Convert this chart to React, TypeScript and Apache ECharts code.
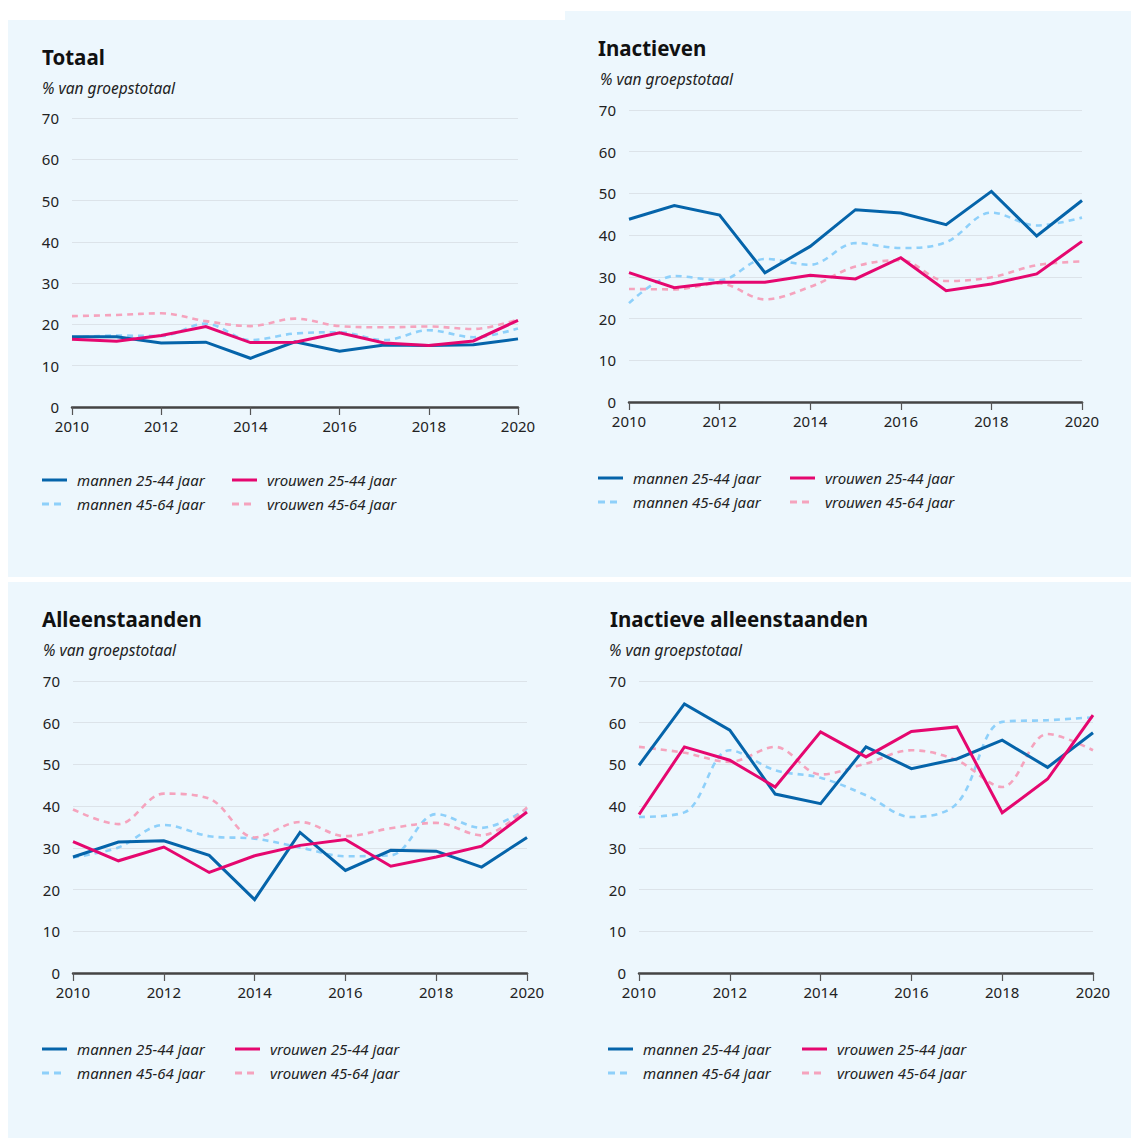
import React, { useEffect, useRef } from "react";
import * as echarts from "echarts";

const YEARS = ["2010", "2011", "2012", "2013", "2014", "2015", "2016", "2017", "2018", "2019", "2020"];
const SERIES_NAMES = ["mannen 25-44 jaar", "mannen 45-64 jaar", "vrouwen 25-44 jaar", "vrouwen 45-64 jaar"];
const SUBTITLE = "% van groepstotaal";
const Y_MIN = 0;
const Y_MAX = 70;
const Y_STEP = 10;

// Totaal
const totaalM2544 = [17.0, 17.0, 15.5, 15.7, 11.8, 15.8, 13.5, 15.0, 14.9, 15.1, 16.5];
const totaalM4564 = [16.8, 17.3, 17.2, 20.2, 16.2, 17.8, 18.1, 16.2, 18.6, 16.9, 19.0];
const totaalV2544 = [16.4, 15.9, 17.3, 19.5, 15.6, 15.7, 18.0, 15.5, 14.9, 16.0, 21.0];
const totaalV4564 = [22.0, 22.3, 22.7, 20.8, 19.6, 21.4, 19.6, 19.3, 19.5, 18.9, 21.2];

// Inactieven
const inactM2544 = [43.8, 47.1, 44.8, 31.0, 37.3, 46.1, 45.3, 42.5, 50.5, 39.8, 48.3];
const inactM4564 = [23.7, 30.2, 29.2, 34.3, 32.9, 38.1, 36.9, 38.3, 45.4, 42.3, 44.2];
const inactV2544 = [31.0, 27.4, 28.7, 28.7, 30.4, 29.5, 34.6, 26.7, 28.3, 30.7, 38.5];
const inactV4564 = [27.1, 27.0, 28.4, 24.6, 27.6, 32.5, 34.0, 29.0, 29.9, 32.8, 33.7];

// Alleenstaanden
const alleenM2544 = [27.8, 31.4, 31.7, 28.2, 17.6, 33.7, 24.6, 29.4, 29.2, 25.4, 32.5];
const alleenM4564 = [27.7, 30.1, 35.5, 32.8, 32.2, 30.1, 28.0, 28.2, 38.1, 34.8, 39.4];
const alleenV2544 = [31.5, 26.9, 30.2, 24.1, 28.1, 30.6, 32.0, 25.6, 27.8, 30.4, 38.6];
const alleenV4564 = [39.2, 35.7, 43.0, 41.8, 32.5, 36.2, 32.8, 34.7, 36.0, 33.0, 39.7];

// Inactieve alleenstaanden
const inAlM2544 = [49.8, 64.5, 58.2, 42.9, 40.6, 54.2, 49.0, 51.3, 55.8, 49.3, 57.6];
const inAlM4564 = [37.4, 38.5, 53.4, 48.6, 46.8, 42.6, 37.4, 40.6, 60.2, 60.6, 61.3];
const inAlV2544 = [38.0, 54.2, 51.0, 44.6, 57.8, 51.8, 57.9, 59.0, 38.4, 46.5, 61.8];
const inAlV4564 = [54.2, 52.8, 50.6, 54.2, 47.6, 50.2, 53.4, 51.0, 44.6, 57.3, 53.4];

const COLORS = {
  m2544: "#0564AA",
  m4564: "#8ED0FA",
  v2544: "#E5076F",
  v4564: "#F5A3BD",
};
const FONT = "'Noto Sans', sans-serif";
const SOLID_ICON = "path://M0,0h25v3h-25z";
const DASHED_ICON = "path://M0,0h7v3h-7z M12,0h7v3h-7z M25,0v3z";

const PANELS = [
  {
    title: "Totaal",
    data: [totaalM2544, totaalM4564, totaalV2544, totaalV4564],
    grid: { left: 72, top: 118, width: 446, height: 289 },
    titleX: 42, titleY: 46, subX: 42, subY: 80,
    legX1: 42, legX2: 232, legY: 472,
  },
  {
    title: "Inactieven",
    data: [inactM2544, inactM4564, inactV2544, inactV4564],
    grid: { left: 629, top: 110, width: 453, height: 292 },
    titleX: 598, titleY: 37, subX: 600, subY: 71,
    legX1: 598, legX2: 790, legY: 470,
  },
  {
    title: "Alleenstaanden",
    data: [alleenM2544, alleenM4564, alleenV2544, alleenV4564],
    grid: { left: 73, top: 681, width: 454, height: 292 },
    titleX: 42, titleY: 608, subX: 43, subY: 642,
    legX1: 42, legX2: 235, legY: 1041,
  },
  {
    title: "Inactieve alleenstaanden",
    data: [inAlM2544, inAlM4564, inAlV2544, inAlV4564],
    grid: { left: 639, top: 681, width: 454, height: 292 },
    titleX: 610, titleY: 608, subX: 609, subY: 642,
    legX1: 608, legX2: 802, legY: 1041,
  },
];

function buildOption() {
  const titles: any[] = [];
  const grids: any[] = [];
  const xAxes: any[] = [];
  const yAxes: any[] = [];
  const legends: any[] = [];
  const series: any[] = [];

  PANELS.forEach((p, i) => {
    titles.push({
      text: p.title, left: p.titleX, top: p.titleY, padding: 0,
      textStyle: { fontFamily: FONT, fontSize: 20.5, fontWeight: "bold", color: "#111" },
    });
    titles.push({
      text: SUBTITLE, left: p.subX, top: p.subY, padding: 0,
      textStyle: { fontFamily: FONT, fontSize: 15.5, fontStyle: "italic", fontWeight: "normal", color: "#222" },
    });
    grids.push({ ...p.grid, containLabel: false });
    xAxes.push({
      type: "category", gridIndex: i, data: YEARS, boundaryGap: false,
      axisLine: { show: true, lineStyle: { color: "#444", width: 2.5 } },
      axisTick: { show: true, interval: 1, length: 8, lineStyle: { color: "#555", width: 1.2 } },
      axisLabel: { interval: 1, color: "#222", fontFamily: FONT, fontSize: 15, margin: 11 },
      splitLine: { show: false },
    });
    yAxes.push({
      type: "value", gridIndex: i, min: Y_MIN, max: Y_MAX, interval: Y_STEP,
      axisLine: { show: false }, axisTick: { show: false },
      axisLabel: { color: "#222", fontFamily: FONT, fontSize: 15, margin: 13 },
      splitLine: { show: true, lineStyle: { color: "#DCE3E9", width: 1 } },
    });
    const legendCommon = {
      orient: "vertical", top: p.legY, padding: 0, itemGap: 8, itemWidth: 25, itemHeight: 3,
      textStyle: { fontFamily: FONT, fontSize: 15, fontStyle: "italic", color: "#222", lineHeight: 16, padding: [0, 0, 0, 5] },
      selectedMode: false,
    };
    legends.push({
      ...legendCommon, left: p.legX1,
      data: [{ name: SERIES_NAMES[0], icon: SOLID_ICON }, { name: SERIES_NAMES[1], icon: DASHED_ICON }],
    });
    legends.push({
      ...legendCommon, left: p.legX2,
      data: [{ name: SERIES_NAMES[2], icon: SOLID_ICON }, { name: SERIES_NAMES[3], icon: DASHED_ICON }],
    });

    const [m2544, m4564, v2544, v4564] = p.data;
    const dashed = { type: [6, 5], width: 2.6, cap: "butt" };
    series.push({
      name: SERIES_NAMES[1], type: "line", xAxisIndex: i, yAxisIndex: i, data: m4564,
      showSymbol: false, symbol: "none", smooth: 0.35,
      lineStyle: { ...dashed, color: COLORS.m4564 }, itemStyle: { color: COLORS.m4564 },
    });
    series.push({
      name: SERIES_NAMES[3], type: "line", xAxisIndex: i, yAxisIndex: i, data: v4564,
      showSymbol: false, symbol: "none", smooth: 0.35,
      lineStyle: { ...dashed, color: COLORS.v4564 }, itemStyle: { color: COLORS.v4564 },
    });
    series.push({
      name: SERIES_NAMES[0], type: "line", xAxisIndex: i, yAxisIndex: i, data: m2544,
      showSymbol: false, symbol: "none",
      lineStyle: { width: 3, color: COLORS.m2544, join: "miter" }, itemStyle: { color: COLORS.m2544 },
    });
    series.push({
      name: SERIES_NAMES[2], type: "line", xAxisIndex: i, yAxisIndex: i, data: v2544,
      showSymbol: false, symbol: "none",
      lineStyle: { width: 3, color: COLORS.v2544, join: "miter" }, itemStyle: { color: COLORS.v2544 },
    });
  });

  const bg = "#EDF7FD";
  return {
    animation: false,
    backgroundColor: "#FFFFFF",
    graphic: [
      { type: "rect", z: -10, silent: true, shape: { x: 8, y: 20, width: 557, height: 557 }, style: { fill: bg } },
      { type: "rect", z: -10, silent: true, shape: { x: 565, y: 11, width: 566, height: 566 }, style: { fill: bg } },
      { type: "rect", z: -10, silent: true, shape: { x: 8, y: 582, width: 1123, height: 556 }, style: { fill: bg } },
    ],
    title: titles,
    grid: grids,
    xAxis: xAxes,
    yAxis: yAxes,
    legend: legends,
    series,
  };
}

export default function App() {
  const ref = useRef<HTMLDivElement>(null);
  useEffect(() => {
    document.body.style.margin = "0";
    if (!ref.current) return;
    const chart = echarts.init(ref.current, undefined, { renderer: "svg" });
    chart.setOption(buildOption() as any);
    return () => chart.dispose();
  }, []);
  return <div ref={ref} style={{ width: 1131, height: 1138 }} />;
}
